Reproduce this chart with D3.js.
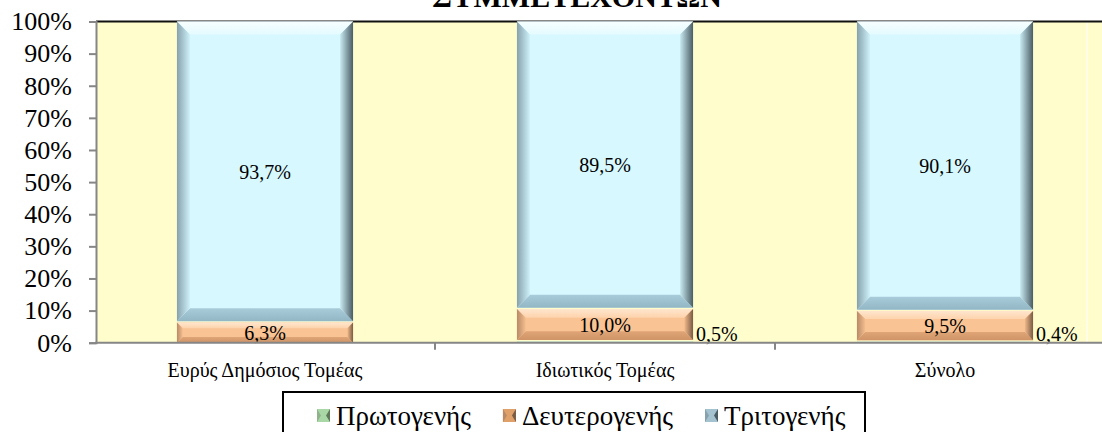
<!DOCTYPE html>
<html>
<head>
<meta charset="utf-8">
<script src="https://cdn.jsdelivr.net/npm/d3@7"></script>
<style>
  html, body { margin: 0; padding: 0; background: #fff; }
  svg { display: block; }
  text { font-family: "Liberation Serif", "Times New Roman", Times, serif; fill: #000; }
</style>
</head>
<body>
<svg id="chart" width="1102" height="432"></svg>
<script>
// ---- data ----
const categories = ["Ευρύς Δημόσιος Τομέας", "Ιδιωτικός Τομέας", "Σύνολο"];
const seriesNames = ["Πρωτογενής", "Δευτερογενής", "Τριτογενής"];
const primary   = [0.0, 0.5, 0.4];
const secondary = [6.3, 10.0, 9.5];
const tertiary  = [93.7, 89.5, 90.1];
const yTicks = [0, 10, 20, 30, 40, 50, 60, 70, 80, 90, 100];
const titleText = "ΣΥΜΜΕΤΕΧΟΝΤΩΝ";

const seriesValues = [primary, secondary, tertiary];
const FONT = '"Liberation Serif", "Times New Roman", Times, serif';

// ---- styles ----
const palettes = [
  { center: "#CDEBC6", top: ["#EEF9EA", "#DDF2D8"], bottom: ["#A9D2A0", "#98C48E"],
    left: ["#8FB28A", "#C8E8C1"], right: ["#C2E4BB", "#5E7A59"], marker: "#A9D8A6" },
  { center: "#F9C394", top: ["#FFE6CE", "#FDD3AC"], bottom: ["#E0A576", "#CF9467"],
    left: ["#B88A66", "#F3BD8E"], right: ["#F0B98A", "#7A5B45"], marker: "#E0A06A" },
  { center: "#D7F8FF", top: ["#F7FEFF", "#E4FBFF"], bottom: ["#A9CCDA", "#93B6C5"],
    left: ["#86A1AD", "#CFF1F9"], right: ["#C9EBF3", "#4A5C64"], marker: "#A4C2D0" }
];

const svg = d3.select("#chart");
const defs = svg.append("defs");

function grad(id, c0, c1, horizontal) {
  const g = defs.append("linearGradient").attr("id", id)
    .attr("x1", 0).attr("y1", 0)
    .attr("x2", horizontal ? 1 : 0).attr("y2", horizontal ? 0 : 1);
  g.append("stop").attr("offset", "0%").attr("stop-color", c0);
  g.append("stop").attr("offset", "100%").attr("stop-color", c1);
}
palettes.forEach((p, i) => {
  grad("top" + i, p.top[0], p.top[1], false);
  grad("bot" + i, p.bottom[0], p.bottom[1], false);
  grad("left" + i, p.left[0], p.left[1], true);
  grad("right" + i, p.right[0], p.right[1], true);
});

// ---- scales ----
const plotLeft = 96, plotRight = 1102, plotTop = 21.5, plotBottom = 342.7;
const x = d3.scaleBand().domain(categories).range([95, 1115])
  .paddingInner(0.482).paddingOuter(0.241);
const y = d3.scaleLinear().domain([0, 100]).range([plotBottom, plotTop]);

// ---- plot area ----
svg.append("rect").attr("x", plotLeft).attr("y", plotTop)
  .attr("width", plotRight - plotLeft).attr("height", plotBottom - plotTop)
  .attr("fill", "#FFFDCC");
svg.append("line").attr("x1", 1087).attr("x2", 1087).attr("y1", plotTop).attr("y2", plotBottom)
  .attr("stroke", "#ffffff").attr("stroke-width", 1);
svg.append("line").attr("x1", plotLeft).attr("x2", plotRight).attr("y1", plotTop).attr("y2", plotTop)
  .attr("stroke", "#111").attr("stroke-width", 2);

// ---- stacked data ----
const rows = categories.map((c, i) => {
  const o = { cat: c };
  seriesNames.forEach((s, k) => { o[s] = seriesValues[k][i]; });
  return o;
});
const stacked = d3.stack().keys(seriesNames)(rows);

const barsG = svg.append("g");
stacked.forEach((layer, k) => {
  layer.forEach((d, i) => {
    const v = d[1] - d[0];
    if (v <= 0) return;
    const x0 = x(categories[i]), x1 = x0 + x.bandwidth();
    const yt = y(d[1]);
    const yb = y(d[0]) - (d[0] > 0 ? 1.2 : 0);
    const h = yb - yt;
    const b = Math.min(13, h * 0.28);
    const g = barsG.append("g");
    const p = palettes[k];
    g.append("rect").attr("x", x0).attr("y", yt).attr("width", x1 - x0).attr("height", h)
      .attr("fill", p.center);
    const poly = pts => pts.map(q => q.join(",")).join(" ");
    g.append("polygon").attr("points", poly([[x0, yt], [x1, yt], [x1 - b, yt + b], [x0 + b, yt + b]]))
      .attr("fill", `url(#top${k})`);
    g.append("polygon").attr("points", poly([[x0, yb], [x1, yb], [x1 - b, yb - b], [x0 + b, yb - b]]))
      .attr("fill", `url(#bot${k})`);
    g.append("polygon").attr("points", poly([[x0, yt], [x0 + b, yt + b], [x0 + b, yb - b], [x0, yb]]))
      .attr("fill", `url(#left${k})`);
    g.append("polygon").attr("points", poly([[x1, yt], [x1 - b, yt + b], [x1 - b, yb - b], [x1, yb]]))
      .attr("fill", `url(#right${k})`);
  });
});

// ---- data labels ----
const fmt = v => v.toFixed(1).replace(".", ",") + "%";
const labelsG = svg.append("g").style("font-size", "20px");
stacked.forEach((layer, k) => {
  layer.forEach((d, i) => {
    const v = seriesValues[k][i];
    if (v <= 0) return;
    const x0 = x(categories[i]);
    if (k === 0) {
      labelsG.append("text").attr("x", x0 + x.bandwidth() + 3).attr("y", plotBottom - 2)
        .text(fmt(v));
    } else {
      labelsG.append("text").attr("x", x0 + x.bandwidth() / 2)
        .attr("y", (y(d[0]) + y(d[1])) / 2).attr("dy", "0.35em")
        .attr("text-anchor", "middle").text(fmt(v));
    }
  });
});

// ---- axes ----
const yAxis = d3.axisLeft(y).tickValues(yTicks).tickFormat(d => d + "%")
  .tickSize(7).tickPadding(17);
const yg = svg.append("g").attr("transform", `translate(${plotLeft},0)`).call(yAxis);
yg.attr("font-family", FONT);
yg.select(".domain").attr("stroke", "#868686").attr("stroke-width", 2);
yg.selectAll(".tick line").attr("stroke", "#868686").attr("stroke-width", 2);
yg.selectAll(".tick text").style("font-size", "26px").style("font-family", FONT).attr("fill", "#000");

const xAxis = d3.axisBottom(x).tickSize(0).tickPadding(20);
const xg = svg.append("g").attr("transform", `translate(0,${plotBottom})`).call(xAxis);
xg.attr("font-family", FONT);
xg.select(".domain").remove();
xg.selectAll(".tick text").style("font-size", "20px").style("font-family", FONT).attr("fill", "#000");
svg.append("line").attr("x1", plotLeft - 1).attr("x2", plotRight).attr("y1", plotBottom).attr("y2", plotBottom)
  .attr("stroke", "#868686").attr("stroke-width", 2);
const boundaries = categories.map((c, i) => x(c) - x.step() * x.paddingInner() / 2)
  .concat([x(categories[categories.length - 1]) + x.bandwidth() + x.step() * x.paddingInner() / 2]);
svg.append("g").selectAll("line").data(boundaries.slice(1)).join("line")
  .attr("x1", d => d).attr("x2", d => d)
  .attr("y1", plotBottom).attr("y2", plotBottom + 7)
  .attr("stroke", "#868686").attr("stroke-width", 2);

// ---- title ----
svg.append("text").attr("x", 722).attr("y", 7).attr("text-anchor", "end")
  .style("font-size", "30px").style("font-weight", "bold").text(titleText);

// ---- legend ----
const lg = svg.append("g");
lg.append("rect").attr("x", 283).attr("y", 392).attr("width", 582).attr("height", 60)
  .attr("fill", "#fff").attr("stroke", "#000").attr("stroke-width", 2);
let lx = 317;
seriesNames.forEach((s, k) => {
  const p = palettes[k];
  const m = lg.append("g");
  const mx = lx, my = 409, ms = 13, mb = 4;
  m.append("rect").attr("x", mx).attr("y", my).attr("width", ms).attr("height", ms).attr("fill", p.marker);
  const poly = pts => pts.map(q => q.join(",")).join(" ");
  m.append("polygon").attr("points", poly([[mx, my], [mx + mb, my + ms / 2], [mx, my + ms]])).attr("fill", p.left[0]);
  m.append("polygon").attr("points", poly([[mx + ms, my], [mx + ms - mb, my + ms / 2], [mx + ms, my + ms]])).attr("fill", p.right[1]);
  const t = lg.append("text").attr("x", lx + 19).attr("y", 425).style("font-size", "27px").text(s);
  lx = lx + 19 + t.node().getComputedTextLength() + 32;
});
</script>
</body>
</html>
